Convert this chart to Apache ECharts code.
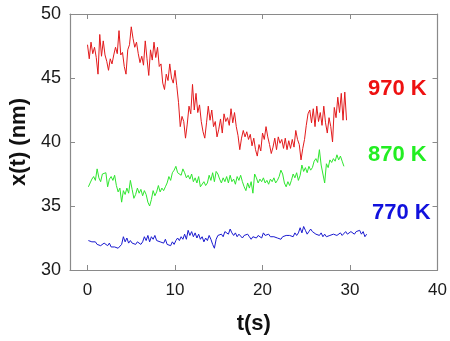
<!DOCTYPE html>
<html>
<head>
<meta charset="utf-8">
<script src="https://cdn.jsdelivr.net/npm/echarts@6/dist/echarts.min.js"></script>
<style>html,body{margin:0;padding:0;background:#fff;}#c{width:450px;height:341px;}</style>
</head>
<body>
<div id="c"></div>
<script>
// sampling grid (s)
const dt = 0.2;
const redStart = 0.0;
const greenStart = 0.1;
const blueStart = 0.1;

// 970 K trace x(t) in nm
const red970 = [
  47.6, 46.5, 47.8, 46.9, 47.4, 46.6,
  45.3, 48.4, 46.7, 47.9, 46.8,
  46.3, 45.6, 46.5, 46.1, 46.8,
  47.4, 46.9, 48.7, 46.8, 47.0,
  45.9, 45.3, 47.2, 47.6, 49.0,
  48.1, 47.4, 47.8, 46.9, 46.2,
  46.7, 46.0, 47.9, 46.5, 45.2,
  47.2, 46.4, 47.8, 46.6, 47.4,
  45.9, 46.1, 44.6, 44.1, 45.3,
  44.8, 46.1, 45.0, 44.6, 45.6,
  44.4, 43.1, 41.2, 42.0, 41.6,
  40.3, 41.4, 42.8, 42.2, 44.5,
  42.5, 43.8, 42.3, 42.9, 41.6,
  40.8, 40.3, 41.5, 42.8, 41.7,
  42.5, 41.2, 41.6, 40.4, 41.0,
  41.8, 40.7, 42.2, 41.6, 41.9,
  41.3, 42.6, 41.5, 42.3, 41.2,
  40.5, 39.4, 40.3, 40.9, 40.4,
  40.8, 40.2, 40.6, 39.7, 40.3,
  39.4, 38.9, 39.8, 39.3, 40.7,
  40.2, 41.2, 40.4, 39.8, 39.1,
  39.6, 40.3, 39.4, 40.4, 39.9,
  40.2, 39.5, 40.3, 39.4, 40.1,
  39.5, 40.2, 39.6, 40.9, 40.2,
  39.8, 38.6, 39.5, 40.2, 41.3,
  42.2, 42.5, 41.5, 42.6, 41.2,
  42.8, 41.6, 42.3, 41.3, 42.8,
  41.5, 40.7, 41.9, 41.2, 40.0,
  42.7, 41.9, 43.5, 42.3, 43.8,
  41.7, 43.9, 41.7
];

// 870 K trace
const green870 = [
  36.5, 36.8, 37.1, 37.3, 37.0,
  37.9, 37.2, 36.9, 37.5, 37.4,
  37.6, 36.5, 37.1, 37.3, 37.0,
  37.4, 36.6, 36.1, 36.4, 35.3,
  36.2, 35.9, 36.4, 36.0, 37.0,
  36.3, 35.6, 35.9, 36.4, 36.0,
  36.3, 35.8, 36.2, 35.9, 35.3,
  35.0, 35.5, 36.2, 35.8, 36.1,
  36.6, 36.1, 36.4, 36.2, 36.5,
  36.8, 37.3, 37.0, 37.6, 37.8,
  38.1, 37.6, 37.7, 37.4, 37.9,
  37.6, 37.2, 37.4, 37.1, 37.5,
  36.9, 37.2, 36.8, 37.3, 36.5,
  36.4, 36.9, 36.6, 36.8, 37.4,
  37.0, 37.6, 36.9, 37.7, 37.5,
  37.1, 36.8, 37.2, 36.9, 37.3,
  36.8, 37.4, 36.9, 37.1, 36.7,
  37.3, 37.0, 37.4, 36.9, 36.5,
  36.2, 36.8, 36.4, 36.9, 36.0,
  37.5, 37.2, 36.8, 37.1, 36.9,
  37.2, 36.8, 37.0, 36.7, 37.1,
  36.9, 37.2, 36.8, 37.0, 37.3,
  37.8, 37.5, 36.8, 36.5, 36.9,
  36.6, 37.0, 37.5, 37.2, 37.6,
  37.0, 37.4, 38.2, 37.7, 38.0,
  37.6, 38.1, 37.8, 38.0, 38.5,
  38.7, 38.4, 39.4, 38.2, 37.5,
  36.8, 38.3, 38.0, 38.6, 38.4,
  38.7, 38.5, 39.0, 38.6, 38.9,
  38.5, 38.1
];

// 770 K trace
const blue770 = [
  32.3, 32.4, 32.2, 32.1, 32.2,
  32.0, 32.1, 31.9, 32.0, 32.1,
  32.0, 31.9, 32.1, 31.8, 31.9,
  31.8, 31.9, 31.7, 31.8, 32.0,
  32.6, 32.2, 32.5, 32.1, 32.3,
  32.1, 32.2, 32.0, 32.2, 32.1,
  32.0, 32.2, 32.6, 32.3, 32.7,
  32.2, 32.6, 32.4, 32.7, 32.3,
  32.4, 32.2, 32.3, 32.1, 32.4,
  32.0, 32.1, 31.9, 32.2, 32.0,
  32.3, 32.5, 32.3, 32.6, 32.4,
  32.8, 32.4, 33.1, 32.7, 33.0,
  32.6, 32.9, 32.5, 32.8, 32.4,
  32.6, 32.2, 32.5, 32.3, 32.7,
  32.4, 32.0, 31.7, 32.4, 32.7,
  32.6, 32.8, 32.6, 33.0, 33.1,
  32.8, 33.2, 32.9, 32.7, 32.9,
  32.6, 32.8, 32.7, 32.5, 32.7,
  32.6, 32.8, 32.6, 32.4, 32.6,
  32.7, 32.5, 32.7, 32.6, 32.5,
  32.9, 32.7, 32.6, 32.8, 32.6,
  32.7, 32.6, 32.7, 32.5, 32.6,
  32.4, 32.6, 32.5, 32.7, 32.6,
  32.7, 32.8, 32.6, 32.9, 32.7,
  32.9, 33.3, 32.9, 33.4, 33.1,
  32.8, 33.0, 33.2, 33.0, 33.1,
  32.8, 32.9, 32.7, 32.9, 32.6,
  32.8, 32.6, 32.5, 32.7, 32.6,
  32.8, 32.9, 32.7, 32.8, 32.9,
  32.7, 32.8, 33.0, 32.8, 32.9,
  33.0, 32.9, 32.8, 33.0, 32.9,
  33.1, 32.8, 33.0, 32.6, 32.8
];

const xTicks = [0, 10, 20, 30, 40];
const seriesNames = ['970 K', '870 K', '770 K'];
const seriesColors = ['#e31a1c', '#2ee62e', '#1a1ad0'];
const labelColors = ['#ee1111', '#22ee22', '#1111dd'];

function toPairs(start, vals) {
  return vals.map((v, i) => [+(start + i * dt).toFixed(2), v]);
}

const chart = echarts.init(document.getElementById('c'), null, {renderer: 'canvas'});
const axisCol = '#8a8a8a';
const font = 'Liberation Sans, Arial, sans-serif';

const baseX = {
  type: 'value', min: -2, max: 40,
  axisLine: {show: true, onZero: false, lineStyle: {color: axisCol, width: 1.2}},
  axisTick: {show: true, inside: true, length: 5, customValues: xTicks, lineStyle: {color: axisCol}},
  splitLine: {show: false}
};
const baseY = {
  type: 'value', min: 30, max: 50, interval: 5,
  axisLine: {show: true, onZero: false, lineStyle: {color: axisCol, width: 1.2}},
  axisTick: {show: true, inside: true, length: 5, lineStyle: {color: axisCol}},
  splitLine: {show: false}
};

chart.setOption({
  animation: false,
  backgroundColor: '#fff',
  grid: {left: 70, right: 11, top: 14, bottom: 71, containLabel: false},
  xAxis: [
    Object.assign({}, baseX, {
      position: 'bottom',
      name: 't(s)', nameLocation: 'middle', nameGap: 43,
      nameTextStyle: {fontFamily: font, fontWeight: 'bold', fontSize: 22, color: '#111'},
      axisLabel: {show: true, customValues: xTicks, margin: 12, fontFamily: font, fontSize: 17, color: '#1a1a1a'}
    }),
    Object.assign({}, baseX, {position: 'top', axisLabel: {show: false}})
  ],
  yAxis: [
    Object.assign({}, baseY, {
      position: 'left',
      name: 'x(t) (nm)', nameLocation: 'middle', nameGap: 37,
      nameTextStyle: {fontFamily: font, fontWeight: 'bold', fontSize: 22, color: '#111'},
      axisLabel: {show: true, margin: 9, fontFamily: font, fontSize: 18, color: '#1a1a1a'}
    }),
    Object.assign({}, baseY, {position: 'right', axisLabel: {show: false}})
  ],
  series: [
    {name: seriesNames[0], type: 'line', showSymbol: false, data: toPairs(redStart, red970),
     lineStyle: {color: seriesColors[0], width: 1}, itemStyle: {color: seriesColors[0]}},
    {name: seriesNames[1], type: 'line', showSymbol: false, data: toPairs(greenStart, green870),
     lineStyle: {color: seriesColors[1], width: 1}, itemStyle: {color: seriesColors[1]}},
    {name: seriesNames[2], type: 'line', showSymbol: false, data: toPairs(blueStart, blue770),
     lineStyle: {color: seriesColors[2], width: 1}, itemStyle: {color: seriesColors[2]}}
  ],
  graphic: [
    {type: 'text', left: 368, top: 78, style: {text: seriesNames[0], fill: labelColors[0], font: 'bold 22px ' + font}},
    {type: 'text', left: 368, top: 144, style: {text: seriesNames[1], fill: labelColors[1], font: 'bold 22px ' + font}},
    {type: 'text', left: 372, top: 202, style: {text: seriesNames[2], fill: labelColors[2], font: 'bold 22px ' + font}}
  ]
});
</script>
</body>
</html>
